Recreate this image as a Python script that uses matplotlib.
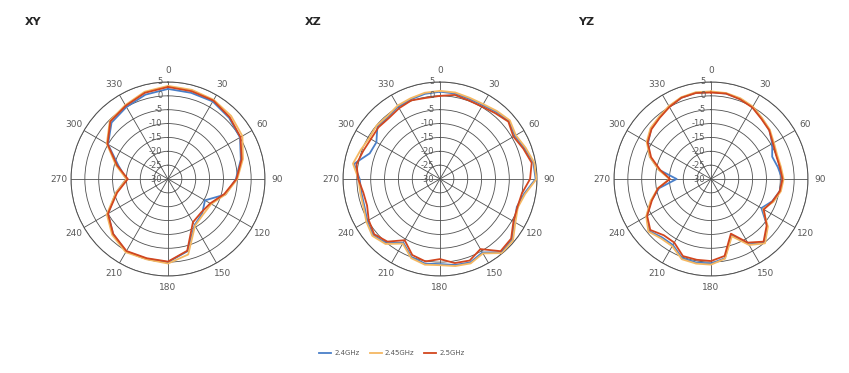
import numpy as np
import matplotlib
matplotlib.use("Agg")
import matplotlib.pyplot as plt
from matplotlib import transforms

# ---------------- data ----------------
series_names = ["2.4GHz", "2.45GHz", "2.5GHz"]

xy_angles = list(range(0, 360, 15))
xy_24 = [2.5, 2.2, 2.3, 1.2, 0.0, -2.8, -5.5, -8.5, -14.6, -12.5, -10.8, -3.0,
         0.0, -0.2, 0.2, -2.0, -5.0, -10.5, -15.0, -11.5, -5.0, -1.2, 0.0, 1.5]
xy_245 = [3.6, 3.3, 3.0, 2.2, 1.0, -2.0, -5.0, -8.5, -12.0, -12.0, -10.5, -1.8,
          0.5, 0.0, 0.5, -1.5, -4.5, -10.5, -15.0, -10.5, -4.5, -0.3, 0.8, 2.6]
xy_25 = [3.2, 2.8, 2.7, 1.5, 0.2, -2.5, -5.3, -9.0, -12.4, -13.0, -12.0, -3.2,
         -0.2, -0.4, 0.0, -2.0, -5.0, -11.0, -15.5, -11.0, -4.8, -0.6, 0.5, 2.2]

xz_angles = list(range(0, 360, 10))
xz_24 = [1.5, 1.3, 0.8, 0.8, 1.6, 2.5, 1.2, 2.5, 4.2, 4.5, 0.8, -0.5,
         1.0, 4.0, 4.5, 0.6, 2.0, 1.5, 0.7, 1.0, 0.0, -3.5, 0.2, 1.5,
         0.3, -1.0, -1.2, -1.0, 1.5, -3.0, -3.5, -0.5, -0.8, 0.2, 0.6, 1.2]
xz_245 = [1.8, 1.7, 1.2, 1.2, 2.0, 2.9, 1.6, 2.9, 4.5, 4.8, 1.2, -0.1,
          1.4, 4.4, 4.9, 1.0, 2.4, 1.9, 1.1, 1.4, 0.4, -3.1, 0.6, 1.9,
          0.7, -0.6, -0.8, -0.6, 1.9, 0.5, -0.5, -0.1, -0.4, 0.6, 1.0, 1.6]
xz_25 = [0.0, 0.8, 0.2, 0.2, 1.0, 2.2, 0.6, 2.0, 3.6, 2.5, 0.0, -0.3,
         0.6, 3.5, 4.0, -0.8, 1.3, 0.8, -1.1, 0.2, -0.8, -4.5, -0.5, 1.0,
         -0.3, -2.0, -1.9, -0.5, 0.6, -0.5, -1.2, -1.0, -1.3, -0.5, 0.2, -0.3]

yz_angles = list(range(0, 360, 10))
yz_24 = [1.4, 1.3, 0.8, 0.0, -1.5, -2.5, -4.5, -6.5, -5.5, -4.3, -4.8, -6.5,
         -9.0, -3.5, 0.0, -2.8, -8.5, -1.0, 0.5, 0.6, 0.4, -2.5, -2.5, -0.8,
         -3.2, -7.0, -11.0, -17.6, -11.0, -6.5, -3.8, -1.8, -1.0, 0.2, 1.2, 1.6]
yz_245 = [1.6, 1.5, 1.0, 0.2, -1.3, -2.3, -3.8, -4.6, -4.4, -3.8, -4.4, -6.0,
          -8.3, -3.2, 0.3, -2.5, -8.0, -0.8, 0.9, 1.0, 0.8, -2.0, -2.0, -0.5,
          -3.0, -6.8, -10.5, -15.0, -10.8, -6.5, -3.2, -1.5, -0.8, 0.4, 1.4, 1.8]
yz_25 = [1.2, 1.3, 0.6, -0.2, -1.7, -2.6, -4.2, -5.0, -4.8, -4.2, -4.8, -6.4,
         -8.0, -3.8, -0.5, -3.5, -9.0, -1.8, -0.4, -0.4, -0.4, -3.5, -3.5, -1.4,
         -3.4, -7.3, -10.6, -15.2, -11.4, -7.0, -3.6, -2.0, -1.2, 0.0, 1.2, 1.5]

r_ticks = [-30, -25, -20, -15, -10, -5, 0, 5]
theta_ticks = list(range(0, 360, 30))
panel_titles = ["XY", "XZ", "YZ"]

colors = ["#4a7fc8", "#f5b862", "#d2461e"]
text_col = "#595959"
grid_col = "#505050"

fig = plt.figure(figsize=(8.49, 3.73), dpi=100)
W, H = 849, 373
R = 97
centers = [(168, 179), (440, 179), (711, 179)]
panels = [
    (xy_angles, [xy_24, xy_245, xy_25]),
    (xz_angles, [xz_24, xz_245, xz_25]),
    (yz_angles, [yz_24, yz_245, yz_25]),
]
title_x = [25, 305, 578]

lines_for_legend = []
for i, ((cx, cy), (angs, series)) in enumerate(zip(centers, panels)):
    ax = fig.add_axes([(cx - R) / W, (H - cy - R) / H, 2 * R / W, 2 * R / H],
                      projection="polar")
    ax.set_theta_zero_location("N")
    ax.set_theta_direction(-1)
    ax.set_ylim(-30, 5)
    ax.set_yticks(r_ticks)
    ax.set_yticklabels([])
    ax.set_thetagrids(theta_ticks, [str(t) for t in theta_ticks],
                      fontsize=6.5, color=text_col)
    ax.tick_params(axis="x", pad=-2)
    ax.grid(True, color=grid_col, linewidth=0.6)
    ax.spines["polar"].set_color(grid_col)
    ax.spines["polar"].set_linewidth(0.7)
    ax.set_facecolor("white")
    th = np.deg2rad(np.array(angs + [angs[0]]))
    for s, c, name in zip(series, colors, series_names):
        vals = np.array(s + [s[0]])
        ln, = ax.plot(th, vals, color=c, lw=1.3, label=name, zorder=3)
        if i == 0:
            lines_for_legend.append(ln)
    off = transforms.offset_copy(ax.transData, fig=fig, x=-4, y=0, units="points")
    for rv in r_ticks:
        ax.text(0, rv, str(rv), transform=off, ha="right", va="center",
                fontsize=6, color=text_col, zorder=4)
    fig.text(title_x[i] / W, 1 - 22 / H, panel_titles[i], fontsize=8,
             fontweight="bold", color="#262626", ha="left", va="center")

fig.legend(lines_for_legend, series_names, loc="center", ncol=3,
           bbox_to_anchor=(392 / W, 1 - 353 / H), frameon=False,
           fontsize=5, handlelength=1.7, columnspacing=1.45, handletextpad=0.45,
           labelcolor=text_col)

fig.savefig("out.png", dpi=100, facecolor="white")
